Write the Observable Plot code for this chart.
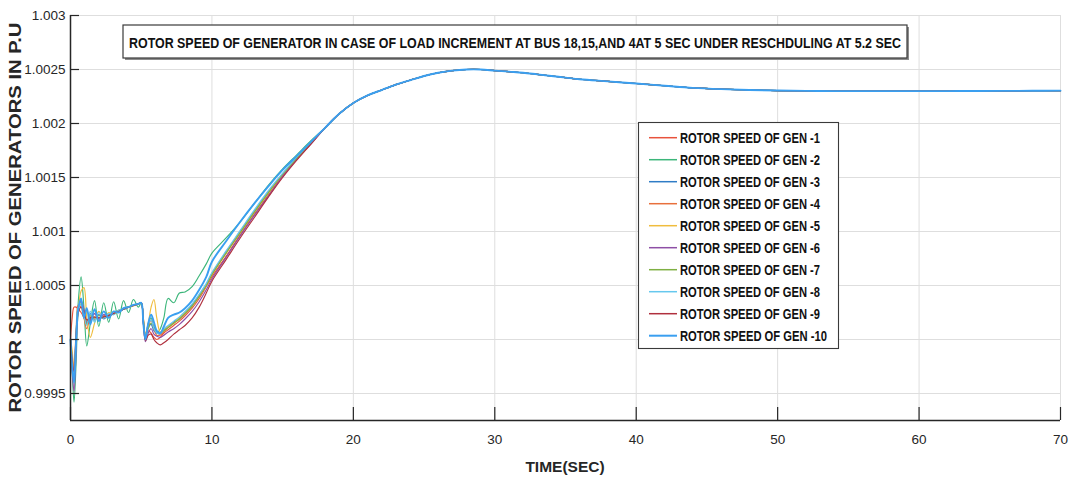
<!DOCTYPE html>
<html>
<head>
<meta charset="utf-8">
<script src="https://cdn.jsdelivr.net/npm/d3@7"></script>
<script src="https://cdn.jsdelivr.net/npm/@observablehq/plot@0.6"></script>
<style>
  html, body { margin: 0; padding: 0; background: #ffffff; }
  #chart { width: 1069px; height: 477px; }
</style>
</head>
<body>
<div id="chart"></div>
<script>
// ---- DATA ----
const titleText = "ROTOR SPEED OF GENERATOR IN CASE OF LOAD INCREMENT AT BUS 18,15,AND 4AT 5 SEC UNDER RESCHDULING AT 5.2 SEC";
const xLabel = "TIME(SEC)";
const yLabel = "ROTOR SPEED OF GENERATORS IN P.U";

const xTicks = [0, 10, 20, 30, 40, 50, 60, 70];
const yTicks = [0.9995, 1, 1.0005, 1.001, 1.0015, 1.002, 1.0025, 1.003];
const yTickLabels = ["0.9995", "1", "1.0005", "1.001", "1.0015", "1.002", "1.0025", "1.003"];

const genNames = [
  "ROTOR SPEED OF GEN -1", "ROTOR SPEED OF GEN -2", "ROTOR SPEED OF GEN -3",
  "ROTOR SPEED OF GEN -4", "ROTOR SPEED OF GEN -5", "ROTOR SPEED OF GEN -6",
  "ROTOR SPEED OF GEN -7", "ROTOR SPEED OF GEN -8", "ROTOR SPEED OF GEN -9",
  "ROTOR SPEED OF GEN -10"
];
const genColors = ["#e8523c", "#3cb67a", "#2f7cc6", "#e8703c", "#f0bd3e",
                   "#8e4fa6", "#7fb043", "#66c8ee", "#b0303e", "#3a9ff0"];

// early transient (0 - 17 s), one list per generator
const time = [0, 0.12, 0.25, 0.4, 0.55, 0.75, 0.95, 1.15, 1.4, 1.7,
              2.0, 2.35, 2.7, 3.05, 3.4, 3.75, 4.1, 4.45, 4.8, 5.0,
              5.15, 5.3, 5.5, 5.7, 5.9, 6.1, 6.35, 6.6, 6.9, 7.3,
              7.7, 8.1, 8.6, 9.1, 9.6, 10, 11, 12, 13, 14,
              15, 16, 17];

const gen1 = [1.00000, 1.00020, 1.00030, 1.00030, 1.00028, 1.00025, 1.00020, 1.00015, 1.00018, 1.00020,
              1.00019, 1.00021, 1.00022, 1.00024, 1.00026, 1.00028, 1.00030, 1.000315, 1.00033, 1.00034,
              1.00020, 1.00005, 1.00008, 1.00006, 1.00002, 1.00000, 1.00002, 1.00006, 1.00009, 1.00013,
              1.00017, 1.00022, 1.00029, 1.00038, 1.00049, 1.00058, 1.00077, 1.00097, 1.00116, 1.00134,
              1.00152, 1.00168, 1.00182];
const gen2 = [1.00000, 0.99970, 0.99942, 0.99980, 1.00035, 1.00058, 1.00030, 0.99994, 1.00015, 1.00036,
              1.00012, 1.00034, 1.00016, 1.00035, 1.00019, 1.00036, 1.00025, 1.00037, 1.00030, 1.00034,
              1.00018, 1.00003, 1.00015, 1.00020, 1.00010, 1.00006, 1.00010, 1.00020, 1.00038, 1.00034,
              1.00043, 1.00044, 1.00049, 1.00059, 1.00070, 1.00080, 1.00094, 1.00109, 1.00126, 1.00143,
              1.00158, 1.00171, 1.00184];
const gen3 = [1.00000, 0.99980, 0.99965, 1.00005, 1.00030, 1.00035, 1.00025, 1.00015, 1.00024, 1.00018,
              1.00023, 1.00019, 1.00023, 1.00024, 1.00027, 1.00028, 1.00030, 1.00032, 1.00033, 1.00034,
              1.00015, 1.00002, 1.00012, 1.00014, 1.00008, 1.00006, 1.00005, 1.00009, 1.00012, 1.00016,
              1.00020, 1.00025, 1.00032, 1.00041, 1.00051, 1.00061, 1.00081, 1.00100, 1.00119, 1.00137,
              1.00153, 1.00168, 1.00182];
const gen4 = [1.00000, 0.99985, 0.99975, 1.00010, 1.00032, 1.00030, 1.00020, 1.00010, 1.00020, 1.00024,
              1.00019, 1.00022, 1.00022, 1.000245, 1.00026, 1.00028, 1.00030, 1.000315, 1.00033, 1.00034,
              1.00018, 1.00004, 1.00012, 1.00018, 1.00010, 1.00004, 1.00004, 1.00007, 1.00011, 1.00015,
              1.00019, 1.00024, 1.00031, 1.00040, 1.00050, 1.00060, 1.00080, 1.00099, 1.00118, 1.00136,
              1.00153, 1.00168, 1.00182];
const gen5 = [1.00000, 0.99990, 0.99970, 1.00000, 1.00025, 1.00045, 1.00048, 1.00020, 1.00002, 1.00015,
              1.00026, 1.00020, 1.00025, 1.00023, 1.00027, 1.00028, 1.00030, 1.00031, 1.00033, 1.00034,
              1.00020, 1.00005, 1.00015, 1.00030, 1.00037, 1.00020, 1.00007, 1.00008, 1.00012, 1.00015,
              1.00020, 1.00025, 1.00031, 1.00040, 1.00050, 1.00060, 1.00080, 1.00099, 1.00118, 1.00136,
              1.00153, 1.00168, 1.00182];
const gen6 = [1.00000, 0.99970, 0.99952, 0.99990, 1.00028, 1.00036, 1.00028, 1.00016, 1.00018, 1.00024,
              1.00020, 1.00023, 1.00022, 1.00024, 1.00026, 1.00028, 1.00030, 1.000315, 1.00033, 1.00034,
              1.00016, 0.99998, 1.00006, 1.00010, 1.00005, 1.00003, 1.00002, 1.00004, 1.00007, 1.00010,
              1.00014, 1.00019, 1.00026, 1.00035, 1.00046, 1.00056, 1.00076, 1.00096, 1.00115, 1.00133,
              1.00151, 1.00167, 1.00181];
const gen7 = [1.00000, 0.99975, 0.99970, 1.00005, 1.00030, 1.00033, 1.00025, 1.00014, 1.00022, 1.00020,
              1.00022, 1.00021, 1.00022, 1.00024, 1.00026, 1.00028, 1.00030, 1.000315, 1.00033, 1.00034,
              1.00018, 1.00003, 1.00010, 1.00015, 1.00012, 1.00007, 1.00006, 1.00008, 1.00011, 1.00015,
              1.00019, 1.00024, 1.00031, 1.00040, 1.00050, 1.00060, 1.00080, 1.00099, 1.00118, 1.00136,
              1.00153, 1.00168, 1.00182];
const gen8 = [1.00000, 0.99980, 0.99968, 1.00005, 1.00030, 1.00032, 1.00022, 1.00013, 1.00026, 1.00016,
              1.00025, 1.00020, 1.00024, 1.00023, 1.00027, 1.00028, 1.00030, 1.00032, 1.00033, 1.00034,
              1.00016, 1.00002, 1.00014, 1.00018, 1.00010, 1.00006, 1.00006, 1.00010, 1.00013, 1.00017,
              1.00021, 1.00026, 1.00033, 1.00042, 1.00052, 1.00062, 1.00082, 1.00101, 1.00120, 1.00138,
              1.00154, 1.00169, 1.00183];
const gen9 = [1.00000, 0.99982, 0.99970, 1.00005, 1.00025, 1.00030, 1.00026, 1.00018, 1.00020, 1.00021,
              1.00020, 1.00021, 1.00022, 1.00024, 1.00026, 1.00028, 1.00030, 1.000315, 1.00033, 1.00034,
              1.00015, 0.99999, 1.00004, 1.00005, 1.00000, 0.99997, 0.99995, 0.99997, 1.00000, 1.00005,
              1.00009, 1.00013, 1.00020, 1.00030, 1.00043, 1.00054, 1.00074, 1.00094, 1.00113, 1.00132,
              1.00150, 1.00166, 1.00181];
const gen10 = [1.00000, 0.99975, 0.99960, 1.00000, 1.00028, 1.00038, 1.00020, 1.00029, 1.00014, 1.00028,
               1.00017, 1.00026, 1.00020, 1.00026, 1.00025, 1.00029, 1.00030, 1.00032, 1.00033, 1.00034,
               1.00015, 1.00000, 1.00015, 1.00023, 1.00016, 1.00008, 1.00006, 1.00012, 1.00020, 1.00023,
               1.00025, 1.00029, 1.00036, 1.00046, 1.00058, 1.00072, 1.00091, 1.00109, 1.00126, 1.00142,
               1.00157, 1.00170, 1.00183];

// after ~18 s all generators coincide
const tailTime = [18, 19, 20, 21, 22, 23, 24, 25, 26, 27, 28, 29, 30, 31, 32, 33, 34, 35, 36, 38,
                  40, 42, 44, 46, 48, 50, 52, 54, 56, 58, 60, 62, 64, 66, 68, 70];
const tailSpeed = [1.00196, 1.00209, 1.00219, 1.00226, 1.00231, 1.00236, 1.00240, 1.00244, 1.00247, 1.00249,
                   1.00250, 1.00250, 1.00249, 1.00248, 1.00247, 1.002455, 1.00244, 1.002425, 1.00241, 1.00239,
                   1.00237, 1.00235, 1.00233, 1.002318, 1.00231, 1.002305, 1.002302, 1.0023, 1.0023, 1.0023,
                   1.0023, 1.0023, 1.002301, 1.002302, 1.002303, 1.002304];

// ---- BUILD ----
const gens = [gen1, gen2, gen3, gen4, gen5, gen6, gen7, gen8, gen9, gen10];
const rows = [];
gens.forEach((vals, i) => {
  time.forEach((t, j) => rows.push({gen: genNames[i], idx: i, t, v: vals[j]}));
  tailTime.forEach((t, j) => rows.push({gen: genNames[i], idx: i, t, v: tailSpeed[j]}));
});

const W = 1069, H = 477;
const mL = 70, mR = 9, mT = 15, mB = 57;
const innerW = W - mL - mR, innerH = H - mT - mB;
const narrow = "'Liberation Sans Narrow', 'Arial Narrow', 'Liberation Sans', Arial, sans-serif";
const ink = "#262626";
const gridColor = "#dedede";

const chart = Plot.plot({
  width: W, height: H,
  marginLeft: mL, marginRight: mR, marginTop: mT, marginBottom: mB,
  style: {fontFamily: narrow, background: "#ffffff", overflow: "visible"},
  x: {domain: [0, 70], label: null},
  y: {domain: [0.99925, 1.003], label: null},
  color: {domain: genNames, range: genColors},
  marks: [
    Plot.gridX(xTicks, {stroke: gridColor, strokeOpacity: 1, strokeWidth: 1}),
    Plot.gridY(yTicks, {stroke: gridColor, strokeOpacity: 1, strokeWidth: 1}),
    Plot.line(rows, {x: "t", y: "v", z: "gen", stroke: "gen",
      strokeWidth: d => d.idx === 9 ? 1.9 : 1.15, curve: "catmull-rom"}),
    Plot.ruleX([0], {stroke: ink, strokeWidth: 1.5}),
    Plot.ruleY([0.99925], {stroke: ink, strokeWidth: 1.5}),
    Plot.tickX(xTicks, {x: d => d, insetTop: innerH - 13, stroke: ink, strokeWidth: 1.2}),
    Plot.tickY(yTicks, {y: d => d, insetRight: innerW - 9, stroke: ink, strokeWidth: 1.2}),
    Plot.axisX(xTicks, {tickSize: 0, tickPadding: 14, fontSize: 13.5, fill: ink,
      tickFormat: d => String(d), label: null}),
    Plot.axisY(yTicks, {tickSize: 0, tickPadding: 5, fontSize: 13.5, fill: ink,
      tickFormat: d => yTickLabels[yTicks.indexOf(d)], label: null})
  ]
});

document.getElementById("chart").appendChild(chart);

const svg = d3.select(chart);
const colorScale = chart.scale("color");

// axis titles
svg.append("text")
  .attr("x", mL + innerW / 2).attr("y", 466)
  .attr("text-anchor", "middle").attr("dominant-baseline", "central")
  .attr("font-family", narrow).attr("font-weight", "bold").attr("font-size", 15.5)
  .attr("fill", ink).text(xLabel);

svg.append("text")
  .attr("transform", `translate(15,${mT + innerH / 2}) rotate(-90)`)
  .attr("text-anchor", "middle").attr("dominant-baseline", "central")
  .attr("font-family", "'Liberation Sans', Arial, sans-serif").attr("font-weight", "bold")
  .attr("font-size", 16.5).attr("fill", ink)
  .attr("textLength", 390).attr("lengthAdjust", "spacingAndGlyphs")
  .text(yLabel);

// title box
const tb = svg.append("g");
tb.append("rect").attr("x", 125).attr("y", 27).attr("width", 784).attr("height", 33).attr("fill", "#8c8c8c");
tb.append("rect").attr("x", 123).attr("y", 25).attr("width", 784).attr("height", 33)
  .attr("fill", "#ffffff").attr("stroke", "#3a3a3a").attr("stroke-width", 1.2);
tb.append("text").attr("x", 515).attr("y", 42)
  .attr("text-anchor", "middle").attr("dominant-baseline", "central")
  .attr("font-family", narrow).attr("font-weight", "bold").attr("font-size", 15)
  .attr("fill", "#111111")
  .attr("textLength", 772).attr("lengthAdjust", "spacingAndGlyphs")
  .text(titleText);

// legend
const lg = svg.append("g");
lg.append("rect").attr("x", 638.5).attr("y", 122.5).attr("width", 200).attr("height", 226)
  .attr("fill", "#ffffff").attr("stroke", "#3a3a3a").attr("stroke-width", 1.1);
genNames.forEach((name, i) => {
  const y = 137.7 + 22 * i;
  lg.append("line").attr("x1", 649).attr("x2", 677).attr("y1", y).attr("y2", y)
    .attr("stroke", colorScale.apply(name)).attr("stroke-width", i === 9 ? 2 : 1.5);
  lg.append("text").attr("x", 680).attr("y", y)
    .attr("text-anchor", "start").attr("dominant-baseline", "central")
    .attr("font-family", narrow).attr("font-weight", "bold").attr("font-size", 15)
    .attr("fill", "#111111")
    .attr("textLength", i === 9 ? 147 : 140).attr("lengthAdjust", "spacingAndGlyphs")
    .text(name);
});
</script>
</body>
</html>
